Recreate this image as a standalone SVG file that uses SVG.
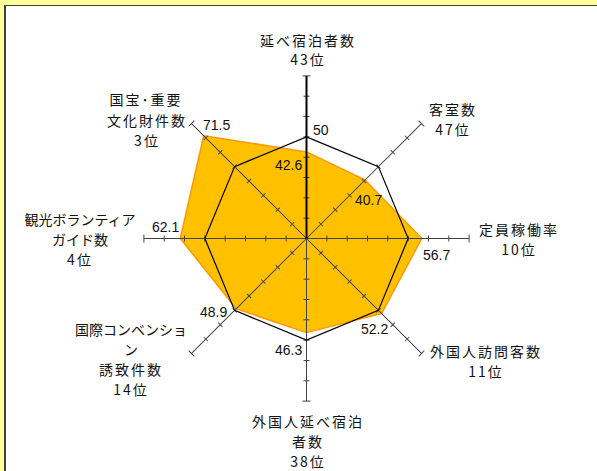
<svg xmlns="http://www.w3.org/2000/svg" xmlns:xlink="http://www.w3.org/1999/xlink" width="597" height="471" viewBox="0 0 597 471">
<style>
.lbl{font-family:"Noto Sans CJK JP","Noto Sans",sans-serif;font-size:14px;fill:#111;text-anchor:middle;letter-spacing:2px}
.kt{letter-spacing:0px}
.val{font-family:"Liberation Sans","Noto Sans",sans-serif;font-size:14px;fill:#111}
.ax{fill:none;stroke:#444;stroke-width:1}
.ref{fill:none;stroke:#000;stroke-width:1.2;stroke-linejoin:miter}
.data{fill:#FFC000;stroke:#FF9900;stroke-width:1.5;stroke-linejoin:round}
</style>
<defs>
<path id="axis" class="ax" d="M0 0H162.6 M20.33 -3V3 M40.66 -3V3 M61 -3V3 M81.3 -3V3 M101.65 -3V3 M121.98 -3V3 M142.3 -3V3 M162.6 -4V4"/>
</defs>
<rect x="0" y="0" width="597" height="471" fill="#FFFF99"/>
<rect x="6" y="6" width="591" height="465" fill="#FFFFFF"/>
<rect x="4" y="5" width="2" height="466" fill="#404040"/>
<rect x="4" y="5" width="593" height="1" fill="#404040"/>

<g id="data-area">
<polygon class="data" points="306.5,151.9 365.01,179.99 421.77,238.5 381.54,313.54 306.5,332.63 236.2,308.8 180.25,238.5 203.71,135.71"/>
</g>

<g id="connectors">
<use xlink:href="#axis" href="#axis" transform="translate(306.5 238.5) rotate(-90)"/>
<use xlink:href="#axis" href="#axis" transform="translate(306.5 238.5) rotate(-45)"/>
<use xlink:href="#axis" href="#axis" transform="translate(306.5 238.5)"/>
<use xlink:href="#axis" href="#axis" transform="translate(306.5 238.5) rotate(45)"/>
<use xlink:href="#axis" href="#axis" transform="translate(306.5 238.5) rotate(90)"/>
<use xlink:href="#axis" href="#axis" transform="translate(306.5 238.5) rotate(135)"/>
<use xlink:href="#axis" href="#axis" transform="translate(306.5 238.5) rotate(180)"/>
<use xlink:href="#axis" href="#axis" transform="translate(306.5 238.5) rotate(225)"/>
<path d="M306.5 238.5V75.9" stroke="#000" stroke-width="2" fill="none"/>
<polygon class="ref" points="306.5,136.85 378.38,166.62 408.15,238.5 378.38,310.38 306.5,340.15 234.62,310.38 204.85,238.5 234.62,166.62"/>
</g>

<g id="values">
<text class="val" x="313" y="135">50</text>
<text class="val" x="275" y="170">42.6</text>
<text class="val" x="355" y="205">40.7</text>
<text class="val" x="423" y="260">56.7</text>
<text class="val" x="361" y="334">52.2</text>
<text class="val" x="275" y="355">46.3</text>
<text class="val" x="200" y="317">48.9</text>
<text class="val" x="152" y="232">62.1</text>
<text class="val" x="203" y="130">71.5</text>
</g>

<g id="node-n">
<text class="lbl" x="308" y="46">延べ宿泊者数</text>
<text class="lbl" x="308" y="65">43位</text>
</g>
<g id="node-ne">
<text class="lbl" x="453" y="115">客室数</text>
<text class="lbl" x="453" y="135">47位</text>
</g>
<g id="node-e">
<text class="lbl" x="519" y="235">定員稼働率</text>
<text class="lbl" x="519" y="255">10位</text>
</g>
<g id="node-se">
<text class="lbl" x="486" y="357">外国人訪問客数</text>
<text class="lbl" x="486" y="377">11位</text>
</g>
<g id="node-s">
<text class="lbl" x="308" y="427">外国人延べ宿泊</text>
<text class="lbl" x="308" y="447">者数</text>
<text class="lbl" x="308" y="467">38位</text>
</g>
<g id="node-sw">
<text class="lbl kt" x="131" y="335">国際コンベンショ</text>
<text class="lbl kt" x="131" y="355">ン</text>
<text class="lbl" x="131" y="375">誘致件数</text>
<text class="lbl" x="131" y="395">14位</text>
</g>
<g id="node-w">
<text class="lbl kt" x="80" y="225">観光ボランティア</text>
<text class="lbl kt" x="80" y="245">ガイド数</text>
<text class="lbl" x="80" y="265">4位</text>
</g>
<g id="node-nw">
<text class="lbl" x="146" y="105">国宝･重要</text>
<text class="lbl" x="147" y="126">文化財件数</text>
<text class="lbl" x="147" y="146">3位</text>
</g>
</svg>
